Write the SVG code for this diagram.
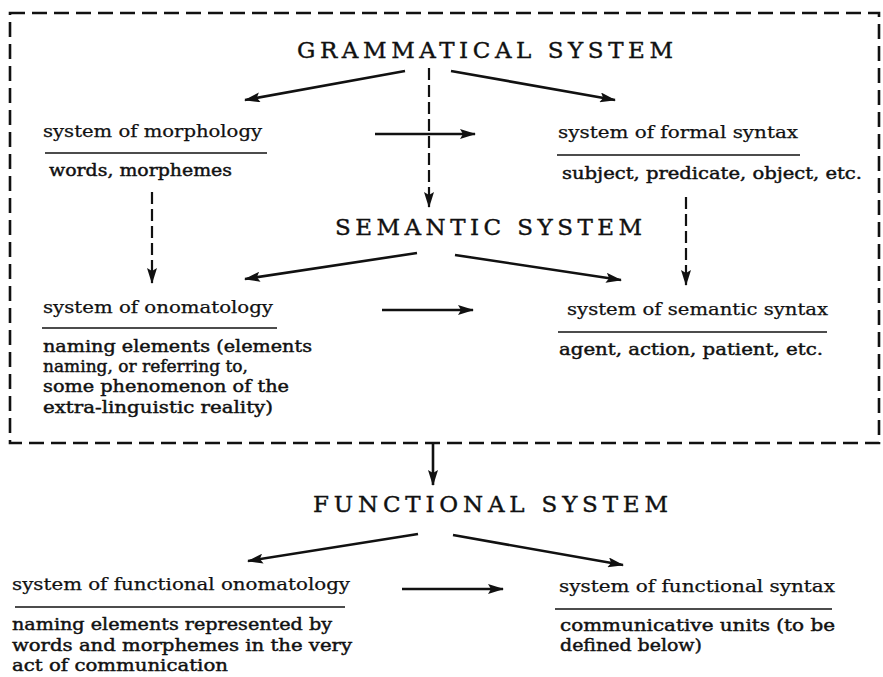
<svg xmlns="http://www.w3.org/2000/svg" width="883" height="677" viewBox="0 0 883 677">
<style>
text{font-family:"DejaVu Serif","Liberation Serif",serif;fill:#111;}
.t{font-size:23px;stroke:#111;stroke-width:0.4;}
.l{font-size:17px;stroke:#111;stroke-width:0.25;}
.d{font-size:17px;stroke:#111;stroke-width:0.45;}
.rule{stroke:#111;stroke-width:1.6;fill:none;}
.arr{stroke:#111;stroke-width:2.6;fill:none;marker-end:url(#ah);}
.darr{stroke:#111;stroke-width:2.2;fill:none;stroke-dasharray:12 5;marker-end:url(#ah);}
.box{stroke:#111;stroke-width:2.6;fill:none;stroke-dasharray:15 7;}
</style>
<defs>
<marker id="ah" viewBox="0 0 16 10" refX="15" refY="5" markerWidth="16" markerHeight="10" markerUnits="userSpaceOnUse" orient="auto">
<path d="M0,0 L16,5 L0,10 L3,5 Z" fill="#111"/>
</marker>
</defs>
<rect class="box" x="10" y="13" width="869" height="430"/>
<g id="grammatical-system">
<text class="t" x="297" y="58" textLength="376" lengthAdjust="spacing">GRAMMATICAL SYSTEM</text>
</g>
<g id="morphology">
<text class="l" x="43" y="137" textLength="219" lengthAdjust="spacingAndGlyphs">system of morphology</text>
<line class="rule" x1="45" y1="153" x2="267" y2="153"/>
<text class="d" x="49" y="176" textLength="183" lengthAdjust="spacingAndGlyphs">words, morphemes</text>
</g>
<g id="formal-syntax">
<text class="l" x="558" y="138" textLength="240" lengthAdjust="spacingAndGlyphs">system of formal syntax</text>
<line class="rule" x1="557" y1="155" x2="800" y2="155"/>
<text class="d" x="562" y="179" textLength="300" lengthAdjust="spacingAndGlyphs">subject, predicate, object, etc.</text>
</g>
<g id="semantic-system">
<text class="t" x="335" y="235" textLength="307" lengthAdjust="spacing">SEMANTIC SYSTEM</text>
</g>
<g id="onomatology">
<text class="l" x="43" y="313" textLength="230" lengthAdjust="spacingAndGlyphs">system of onomatology</text>
<line class="rule" x1="42" y1="328" x2="277" y2="328"/>
<text class="d" x="43" y="352" textLength="269" lengthAdjust="spacingAndGlyphs">naming elements (elements</text>
<text class="d" x="43" y="372" textLength="205" lengthAdjust="spacingAndGlyphs">naming, or referring to,</text>
<text class="d" x="43" y="392" textLength="246" lengthAdjust="spacingAndGlyphs">some phenomenon of the</text>
<text class="d" x="43" y="413" textLength="230" lengthAdjust="spacingAndGlyphs">extra-linguistic reality)</text>
</g>
<g id="semantic-syntax">
<text class="l" x="567" y="315" textLength="261" lengthAdjust="spacingAndGlyphs">system of semantic syntax</text>
<line class="rule" x1="558" y1="332" x2="827" y2="332"/>
<text class="d" x="559" y="355" textLength="264" lengthAdjust="spacingAndGlyphs">agent, action, patient, etc.</text>
</g>
<g id="functional-system">
<text class="t" x="313" y="512" textLength="355" lengthAdjust="spacing">FUNCTIONAL SYSTEM</text>
</g>
<g id="functional-onomatology">
<text class="l" x="12" y="590" textLength="338" lengthAdjust="spacingAndGlyphs">system of functional onomatology</text>
<line class="rule" x1="15" y1="607" x2="345" y2="607"/>
<text class="d" x="12" y="630" textLength="320" lengthAdjust="spacingAndGlyphs">naming elements represented by</text>
<text class="d" x="12" y="651" textLength="340" lengthAdjust="spacingAndGlyphs">words and morphemes in the very</text>
<text class="d" x="12" y="671" textLength="216" lengthAdjust="spacingAndGlyphs">act of communication</text>
</g>
<g id="functional-syntax">
<text class="l" x="559" y="592" textLength="276" lengthAdjust="spacingAndGlyphs">system of functional syntax</text>
<line class="rule" x1="555" y1="609" x2="832" y2="609"/>
<text class="d" x="560" y="631" textLength="275" lengthAdjust="spacingAndGlyphs">communicative units (to be</text>
<text class="d" x="560" y="651" textLength="142" lengthAdjust="spacingAndGlyphs">defined below)</text>
</g>
<g id="connectors">
<line class="arr" x1="405" y1="71" x2="245" y2="100"/>
<line class="arr" x1="451" y1="71" x2="615" y2="100"/>
<line class="darr" x1="429" y1="68" x2="429" y2="207"/>
<line class="arr" x1="375" y1="134" x2="475" y2="134"/>
<line class="darr" x1="152" y1="192" x2="152" y2="283"/>
<line class="darr" x1="686" y1="197" x2="686" y2="285"/>
<line class="arr" x1="417" y1="253" x2="245" y2="279"/>
<line class="arr" x1="455" y1="255" x2="621" y2="280"/>
<line class="arr" x1="382" y1="310" x2="473" y2="310"/>
<line class="arr" x1="433" y1="443" x2="433" y2="485"/>
<line class="arr" x1="418" y1="534" x2="248" y2="561"/>
<line class="arr" x1="453" y1="535" x2="623" y2="565"/>
<line class="arr" x1="402" y1="589" x2="503" y2="589"/>
</g>
</svg>
